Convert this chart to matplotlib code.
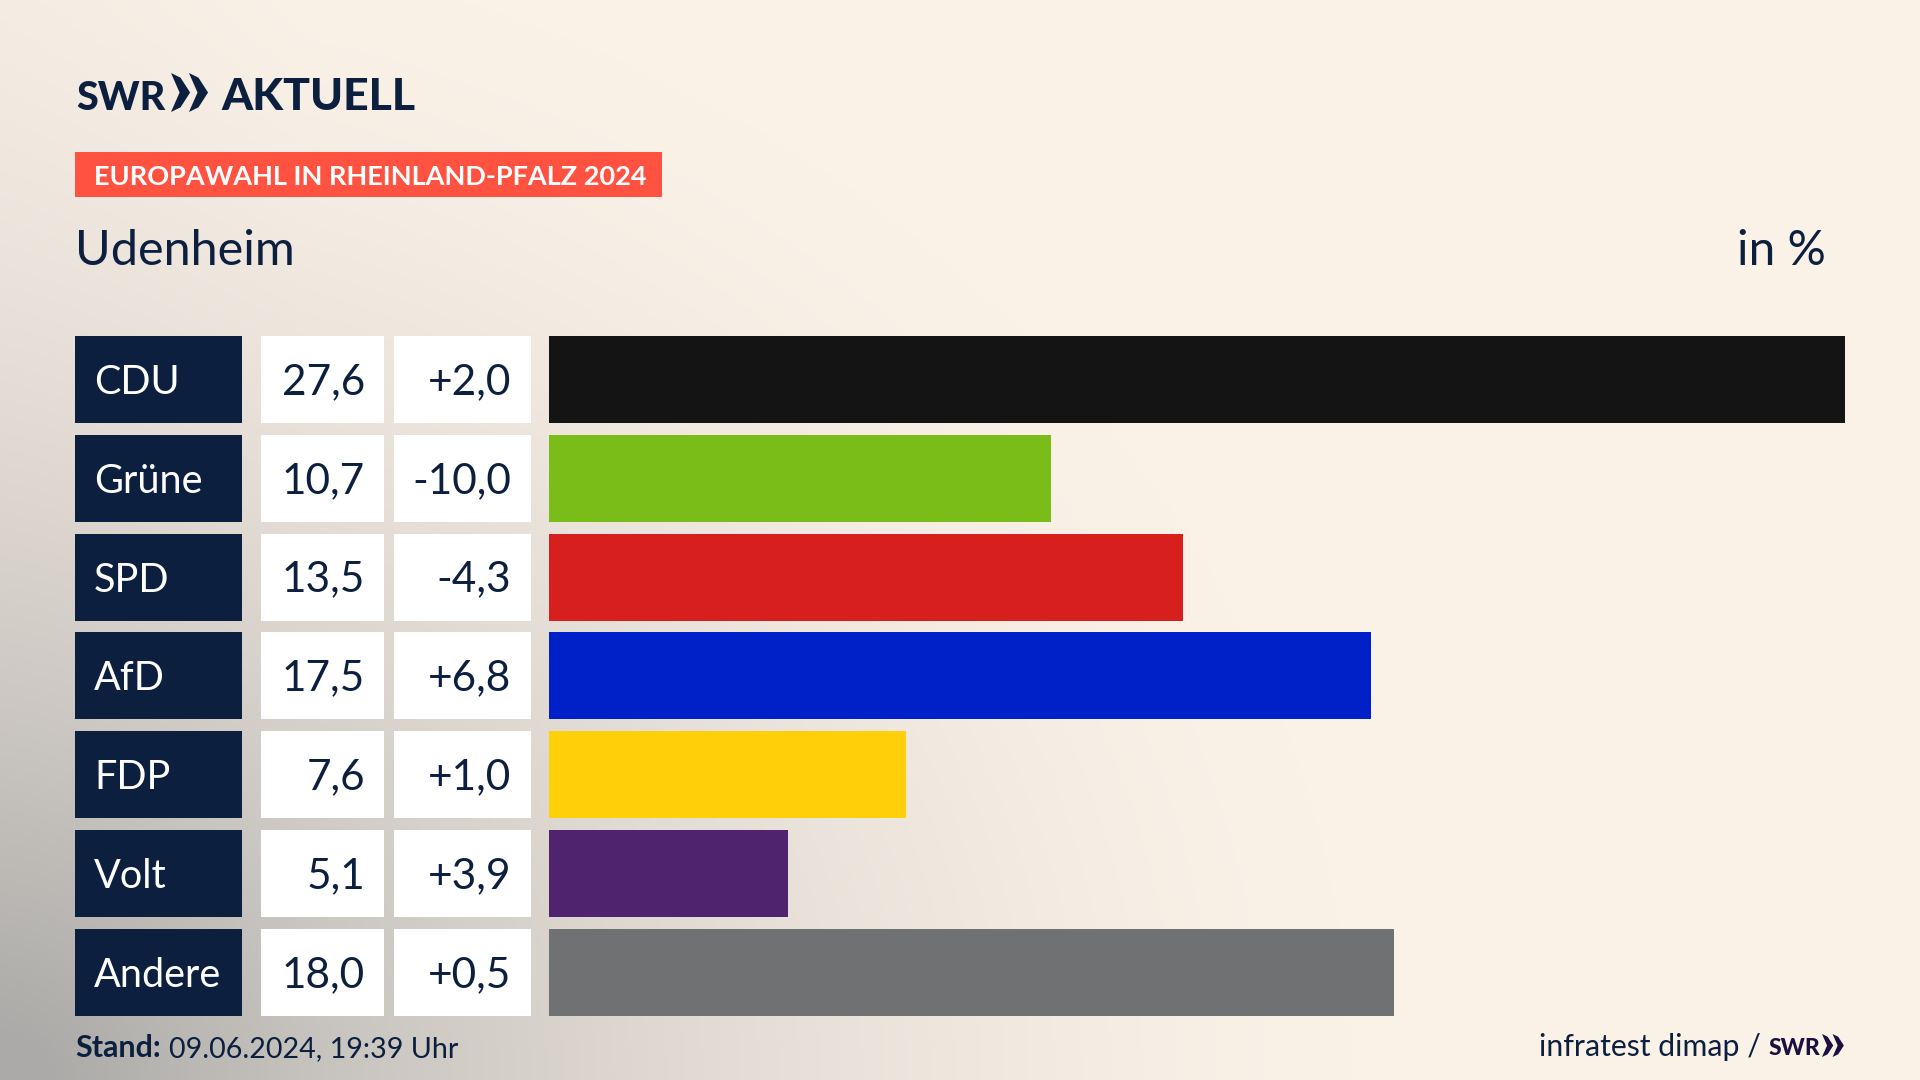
import matplotlib
matplotlib.use('Agg')
import matplotlib.pyplot as plt
import numpy as np
from matplotlib.patches import Polygon, Rectangle

parties = ['CDU', 'Grüne', 'SPD', 'AfD', 'FDP', 'Volt', 'Andere']
values = [27.6, 10.7, 13.5, 17.5, 7.6, 5.1, 18.0]
changes = ['+2,0', '-10,0', '-4,3', '+6,8', '+1,0', '+3,9', '+0,5']
colors = ['#141414', '#7ABD18', '#D7201D', '#0020C8', '#FFCF0A', '#50236F', '#707173']

NAVY = '#0C1F3F'
FONT = 'Lato'

plt.rcParams['font.family'] = FONT

ROW_TOP = 336
ROW_STEP = 98.8
ROW_H = 87

fig = plt.figure(figsize=(19.2, 10.8), dpi=100)

# ganze Flaeche in Pixeln
ax = fig.add_axes([0, 0, 1, 1])
ax.set_xlim(0, 1920)
ax.set_ylim(1080, 0)
ax.axis('off')

# Hintergrund: grauer Verlauf von links unten
xx, yy = np.meshgrid(np.arange(0, 1920, 4), np.arange(0, 1080, 4))
d = np.sqrt((xx / 1350) ** 2 + ((1080 - yy) / 1150) ** 2)
t = np.clip(1 - d, 0, 1) ** 1.6 + 0.06 * np.clip(1 - xx / 300, 0, 1)
t = np.clip(t, 0, 1)
cream = np.array([250, 241, 231]) / 255
grey = np.array([171, 170, 168]) / 255
bg = cream[None, None, :] + t[:, :, None] * (grey - cream)[None, None, :]
ax.imshow(bg, extent=[0, 1920, 1080, 0], aspect='auto', zorder=0)


def chevrons(x, y, h, color):
    # die beiden Pfeile im SWR-Logo
    w = h * 0.49
    for dx in [0, h * 0.46]:
        ax.add_patch(Polygon(
            [
                (x + dx, y),
                (x + dx + w * 0.5, y + h * 0.12),
                (x + dx + w, y + h / 2),
                (x + dx + w * 0.5, y + h * 0.88),
                (x + dx, y + h),
                (x + dx + w * 0.45, y + h / 2),
            ],
            closed=True, facecolor=color, edgecolor='none', zorder=3,
        ))


# Logo
ax.text(76, 110, 'SWR', fontsize=28.5, fontweight='black',
        color=NAVY, va='baseline', ha='left')
chevrons(171, 73, 39, NAVY)
ax.text(221, 110, 'AKTUELL', fontsize=32, fontweight='black',
        color=NAVY, va='baseline', ha='left')

# Dachzeile
ax.add_patch(Rectangle((75, 152), 587, 45, facecolor='#FF5240', edgecolor='none', zorder=2))
ax.text(94, 185, 'EUROPAWAHL IN RHEINLAND-PFALZ 2024', fontsize=19.5, fontweight='bold',
        color='white', va='baseline', ha='left', zorder=3)

ax.text(75, 265, 'Udenheim', fontsize=35, color=NAVY, va='baseline', ha='left')
ax.text(1826, 265, 'in %', fontsize=34.5, color=NAVY, va='baseline', ha='right')

# Tabelle links
for i, party in enumerate(parties):
    top = ROW_TOP + i * ROW_STEP
    base = top + ROW_H / 2 + 14.5
    ax.add_patch(Rectangle((75, top), 167, ROW_H, facecolor=NAVY, edgecolor='none', zorder=2))
    ax.add_patch(Rectangle((261, top), 123, ROW_H, facecolor='white', edgecolor='none', zorder=2))
    ax.add_patch(Rectangle((394, top), 137, ROW_H, facecolor='white', edgecolor='none', zorder=2))
    ax.text(94, base, party, fontsize=28.5, color='white', va='baseline', ha='left', zorder=3)
    ax.text(365, base, f'{values[i]:.1f}'.replace('.', ','), fontsize=30.5, color=NAVY,
            va='baseline', ha='right', zorder=3)
    ax.text(511, base, changes[i], fontsize=30.5, color=NAVY,
            va='baseline', ha='right', zorder=3)

# Balken
bar_h = ROW_STEP * 6 + ROW_H
ax_bar = fig.add_axes([549 / 1920, 1 - (ROW_TOP + bar_h) / 1080, (1845 - 549) / 1920, bar_h / 1080])
ax_bar.patch.set_alpha(0)
ax_bar.barh(range(len(parties)), values, height=ROW_H / ROW_STEP, color=colors)
ax_bar.set_xlim(0, 27.6)
ax_bar.set_ylim(6 + ROW_H / ROW_STEP / 2, -ROW_H / ROW_STEP / 2)
ax_bar.axis('off')

# Fusszeile
ax.text(75, 1057, 'Stand:', fontsize=22, fontweight='bold', color=NAVY, va='baseline', ha='left')
ax.text(169, 1057, '09.06.2024, 19:39 Uhr', fontsize=20.6, color=NAVY, va='baseline', ha='left')
ax.text(1539, 1056, 'infratest dimap /', fontsize=21.8, color=NAVY, va='baseline', ha='left')
ax.text(1769, 1055, 'SWR', fontsize=16.5, fontweight='black', color='#1F0F40',
        va='baseline', ha='left')
chevrons(1822, 1034, 23, '#1F0F40')

fig.savefig('out.png', dpi=100)
